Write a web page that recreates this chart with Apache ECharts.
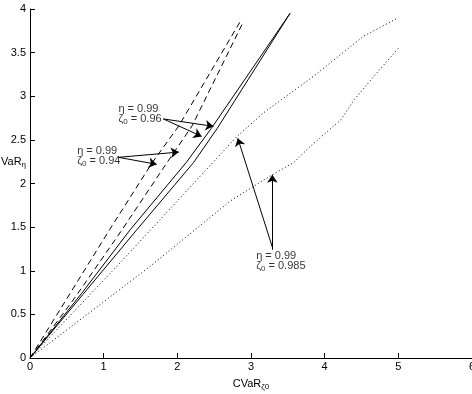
<!DOCTYPE html>
<html>
<head>
<meta charset="utf-8">
<script src="https://cdn.jsdelivr.net/npm/echarts@6/dist/echarts.min.js"></script>
<style>
  html, body { margin: 0; padding: 0; background: #fff; }
  #main { width: 472px; height: 394px; }
</style>
</head>
<body>
<div id="main"></div>
<script>
// curves, [CVaR, VaR]
var dashedA = [[0,0],[0.5,0.68],[1.08,1.47],[1.66,2.24],[2.02,2.66],[2.87,3.88]];
var dashedB = [[0,0],[0.6,0.68],[1.25,1.47],[1.86,2.24],[2.2,2.66],[2.9,3.86]];
var solidA = [[0,0],[0.7,0.74],[1.36,1.47],[2.12,2.24],[2.46,2.63],[3.53,3.95]];
var solidB = [[0,0],[0.72,0.73],[1.45,1.47],[2.22,2.24],[2.54,2.63],[3.53,3.95]];
var dottedA = [[0,0],[1.2,1.07],[2.0,1.8],[2.81,2.54],[3.17,2.81],[3.85,3.23],[4.53,3.69],[5.0,3.9]];
var dottedB = [[0,0],[1.63,1.05],[2.72,1.8],[3.04,1.97],[3.29,2.1],[3.58,2.24],[3.81,2.43],[4.22,2.73],[4.4,2.96],[4.67,3.23],[5.0,3.55]];

// annotations
var noteEta = ['0.99', '0.99', '0.99'];
var noteZeta = ['0.96', '0.94', '0.985'];
var noteAt = [[1.2,2.915],[0.64,2.434],[3.07,1.231]];
var arrows = [
  [[1.81,2.74],[2.49,2.655]],
  [[1.81,2.74],[2.33,2.54]],
  [[1.20,2.30],[2.02,2.36]],
  [[1.20,2.30],[1.72,2.22]],
  [[3.29,1.27],[2.82,2.52]],
  [[3.29,1.24],[3.29,2.10]]
];

var xTicks = [0, 6, 1];
var yTicks = [0, 4, 0.5];

var font = 'Liberation Sans, Arial, sans-serif';
var chart = echarts.init(document.getElementById('main'));

function curve(data, type){
  return {
    type: 'line',
    data: data,
    showSymbol: false,
    silent: true,
    lineStyle: { color: '#000', width: 1, type: type },
    z: 2
  };
}

var rich = {
  t: { fontSize: 11, fontFamily: font, color: '#000', lineHeight: 10 },
  s: { fontSize: 8, fontFamily: font, color: '#000', lineHeight: 10, padding: [6,0,0,0] }
};

var notes = noteAt.map(function(p, i){
  return { value: p, label: { formatter: '{t|η = ' + noteEta[i] + '}\n{t|ζ}{s|0}{t| = ' + noteZeta[i] + '}' } };
});

var option = {
  animation: false,
  grid: { left: 30, right: 0, top: 9, bottom: 36, outerBoundsMode: 'none', containLabel: false },
  xAxis: {
    type: 'value', min: xTicks[0], max: xTicks[1], interval: xTicks[2],
    axisLine: { lineStyle: { color: '#000', width: 1 } },
    axisTick: { inside: true, length: 5, lineStyle: { color: '#000' } },
    axisLabel: { color: '#000', fontSize: 11, fontFamily: font, margin: 3 },
    splitLine: { show: false },
    name: '{t|CVaR}{s|ζ0}',
    nameLocation: 'middle',
    nameGap: 9,
    nameTextStyle: { rich: rich }
  },
  yAxis: {
    type: 'value', min: yTicks[0], max: yTicks[1], interval: yTicks[2],
    axisLine: { show: true, lineStyle: { color: '#000', width: 1 } },
    axisTick: { show: true, inside: true, length: 5, lineStyle: { color: '#000' } },
    axisLabel: { color: '#000', fontSize: 11, fontFamily: font, margin: 4 },
    splitLine: { show: false }
  },
  graphic: [{
    type: 'text', left: 1, top: 155, silent: true,
    style: { text: '{t|VaR}{s|η}', rich: rich }
  }],
  series: [
    curve(dashedA, [6,4]),
    curve(dashedB, [6,4]),
    curve(solidA, 'solid'),
    curve(solidB, 'solid'),
    curve(dottedA, [1,2.5]),
    curve(dottedB, [1,2.5]),
    {
      type: 'lines',
      coordinateSystem: 'cartesian2d',
      symbol: ['none', 'arrow'],
      symbolSize: [5, 8],
      lineStyle: { color: '#000', width: 1, opacity: 1 },
      itemStyle: { color: '#000' },
      silent: true,
      z: 3,
      data: arrows.map(function(a){ return { coords: a }; })
    },
    {
      type: 'scatter',
      symbolSize: 0,
      silent: true,
      data: notes,
      label: {
        show: true,
        position: [0, 0],
        align: 'left',
        verticalAlign: 'top',
        rich: rich
      },
      z: 4
    }
  ]
};
chart.setOption(option);
</script>
</body>
</html>
